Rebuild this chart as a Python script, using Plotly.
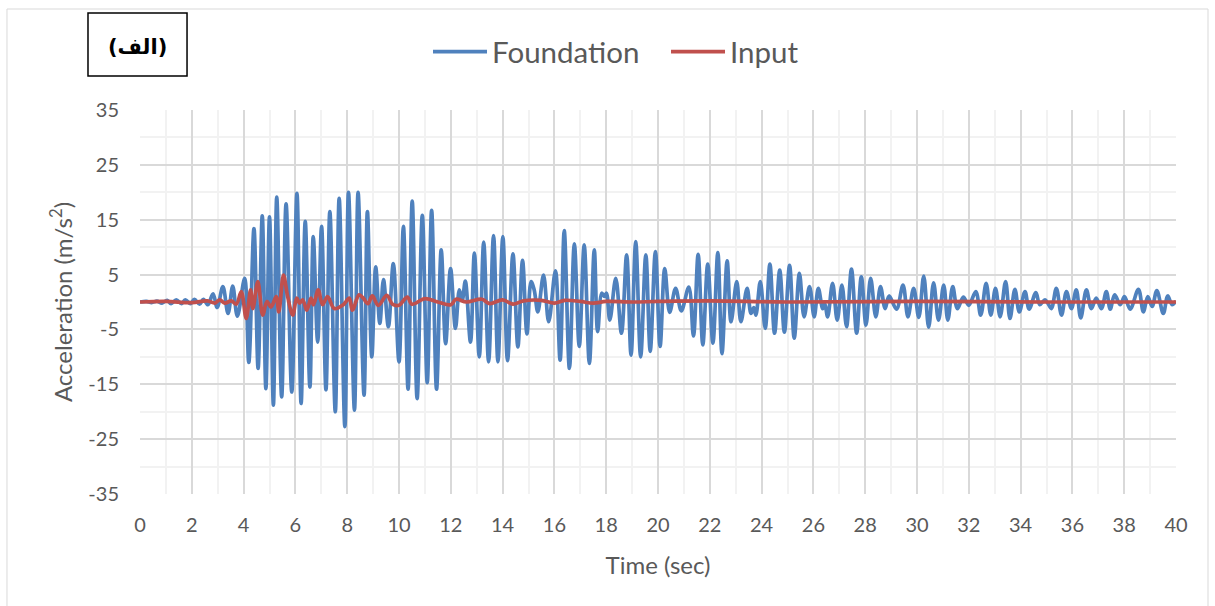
import plotly.graph_objects as go

# Foundation response: extrema of the recorded acceleration trace (s, m/s^2)
time_foundation = [
    0.0, 0.25, 0.45, 0.65, 0.85, 1.05, 1.2, 1.4, 1.6, 1.75, 1.95, 2.1, 2.3, 2.45, 2.62,
    2.82, 2.98, 3.2, 3.4, 3.58, 3.76, 4.04, 4.2, 4.4, 4.56, 4.72, 4.86,
    5.0, 5.15, 5.28, 5.47, 5.64, 5.86, 6.06, 6.22, 6.38, 6.56, 6.69, 6.86,
    7.01, 7.18, 7.33, 7.54, 7.69, 7.91, 8.05, 8.28, 8.42, 8.65, 8.78, 8.95,
    9.1, 9.26, 9.4, 9.59, 9.78, 10.0, 10.17, 10.35, 10.51, 10.7, 10.9, 11.09,
    11.26, 11.45, 11.63, 11.8, 11.99, 12.18, 12.33, 12.44, 12.56, 12.76, 12.91,
    13.1, 13.27, 13.46, 13.65, 13.82, 14.01, 14.19, 14.4, 14.59, 14.77, 14.94,
    15.1, 15.22, 15.36, 15.58, 15.78, 16.04, 16.22, 16.38, 16.58, 16.77, 16.96,
    17.15, 17.35, 17.54, 17.67, 17.83, 17.93, 18.01, 18.14, 18.37, 18.59, 18.79,
    18.96, 19.14, 19.33, 19.53, 19.7, 19.9, 20.08, 20.26, 20.45, 20.68, 20.9,
    21.19, 21.37, 21.55, 21.73, 21.92, 22.12, 22.31, 22.47, 22.67, 22.82, 23.04,
    23.2, 23.44, 23.59, 23.7, 23.78, 23.95, 24.14, 24.32, 24.5, 24.7, 24.88,
    25.08, 25.26, 25.46, 25.64, 25.85, 26.03, 26.19, 26.36, 26.44, 26.55, 26.74,
    26.92, 27.1, 27.28, 27.47, 27.67, 27.85, 28.03, 28.21, 28.41, 28.59, 28.77,
    28.92, 29.21, 29.46, 29.65, 29.87, 30.07, 30.26, 30.45, 30.64, 30.83, 31.03,
    31.19, 31.38, 31.56, 31.79, 32.0, 32.27, 32.46, 32.67, 32.85, 33.03, 33.21,
    33.42, 33.59, 33.78, 33.95, 34.17, 34.33, 34.59, 34.74, 34.94, 35.05, 35.19,
    35.38, 35.58, 35.77, 35.96, 36.15, 36.32, 36.54, 36.73, 36.92, 37.12, 37.31,
    37.46, 37.63, 37.85, 38.01, 38.23, 38.55, 38.74, 38.91, 39.08, 39.26, 39.51,
    39.68, 39.85, 40.0,
]
acc_foundation = [
    0.0, 0.1, -0.1, 0.15, -0.2, 0.3, -0.3, 0.4, -0.3, 0.4, -0.3, 0.5, -0.4, 0.5, -0.5,
    1.5, -1.0, 2.8, -2.1, 2.9, -2.6, 4.3, -11.0, 13.4, -12.1, 15.7, -15.8,
    15.5, -18.8, 19.1, -17.3, 17.9, -16.4, 19.8, -18.5, 14.7, -15.5, 11.9, -7.3,
    13.8, -16.0, 16.5, -20.0, 18.9, -22.7, 20.0, -19.7, 20.0, -17.0, 16.5, -10.0,
    6.4, -3.9, 4.1, -4.5, 7.0, -10.9, 13.8, -15.9, 18.4, -17.6, 15.8, -14.7,
    16.7, -15.9, 9.5, -7.6, 6.1, -4.8, 2.2, 0.3, 3.8, -7.3, 8.9,
    -10.0, 10.9, -10.9, 12.1, -10.9, 11.9, -10.7, 8.8, -8.2, 7.6, -5.8,
    3.7, 2.2, -1.8, 4.9, -3.6, 5.7, -10.6, 13.0, -12.1, 10.6, -8.1,
    10.4, -11.2, 9.5, -5.4, 1.6, 1.0, 1.6, -3.3, 4.3, -5.7, 8.6,
    -9.7, 11.0, -10.0, 8.6, -9.0, 9.2, -8.1, 6.1, -1.9, 2.5, -1.6,
    2.7, -6.2, 8.7, -7.8, 6.9, -7.5, 9.0, -9.4, 7.5, -3.6, 3.7,
    -3.6, 2.5, -2.1, -1.0, -2.4, 3.7, -4.8, 6.9, -5.7, 5.8, -5.5,
    6.7, -6.6, 5.2, -2.7, 2.8, -2.7, 2.5, -1.2, -0.3, -2.7, 3.4,
    -3.3, 3.1, -4.5, 6.0, -5.7, 4.6, -4.2, 4.3, -2.7, 2.8, -1.2,
    1.1, -1.3, 3.1, -2.7, 2.5, -2.8, 4.7, -4.6, 3.5, -3.3, 3.1,
    -3.3, 2.8, -1.2, 0.9, -0.6, 1.9, -2.4, 3.4, -2.4, 2.5, -2.7,
    3.7, -3.0, 2.3, -1.8, 1.9, -1.3, 1.7, -0.5, 0.4, -0.2, -1.2,
    2.5, -2.4, 1.9, -1.2, 2.2, -2.9, 2.2, -1.2, 0.7, -1.2, 1.9,
    -1.3, 1.3, -0.5, 1.0, -1.3, 2.3, -1.8, 1.0, -0.8, 2.1, -2.1,
    1.1, -0.5, 0.2,
]

# Input excitation (s, m/s^2)
time_input = [
    0.0, 1.0, 2.0, 2.6, 2.9, 3.08, 3.27, 3.53, 3.72, 3.91, 4.1, 4.27, 4.36, 4.55,
    4.74, 4.9, 5.06, 5.26, 5.36, 5.54, 5.7, 5.9, 6.05, 6.16, 6.28, 6.44, 6.6,
    6.7, 6.88, 7.05, 7.24, 7.5, 7.85, 8.08, 8.2, 8.46, 8.62, 8.8, 8.97, 9.2,
    9.53, 9.75, 10.0, 10.32, 10.5, 11.0, 11.5, 12.0, 12.2, 12.6, 13.2, 13.5,
    14.0, 14.4, 14.8, 15.5, 16.0, 16.4, 17.0, 17.5, 18.0, 19.0, 20.0, 22.0,
    25.0, 30.0, 35.0, 40.0,
]
acc_input = [
    0.0, 0.1, -0.1, 0.2, -0.2, 0.4, -0.2, 0.2, -0.4, 1.9, -3.0, 2.2, -1.2, 3.7,
    -2.4, 0.1, -0.9, 1.0, -1.8, 4.9, 1.0, -2.4, 0.7, -0.2, 0.4, -1.5, 0.7,
    -0.5, 2.2, -0.5, 1.0, -1.2, -0.5, 0.7, -1.5, 1.3, 0.7, -0.3, 1.1, -0.6,
    1.2, -0.4, -0.6, 0.9, -0.4, 0.6, 0.0, -0.5, 0.5, 0.0, 0.5, -0.3,
    0.4, -0.4, 0.2, 0.3, -0.2, 0.3, 0.1, -0.2, 0.1, 0.0, 0.1, 0.2,
    0.0, 0.1, 0.0, 0.0,
]

x_ticks = list(range(0, 41, 2))
y_ticks = [-35, -25, -15, -5, 5, 15, 25, 35]

FONT = "Lato, Open Sans, sans-serif"
TEXT_GREY = "#595959"
MAJOR_GRID = "#d9d9d9"
MINOR_GRID = "#f2f2f2"

fig = go.Figure()
fig.add_trace(go.Scatter(
    x=time_foundation, y=acc_foundation, name="Foundation", mode="lines",
    line=dict(color="#4f81bd", width=3.7, shape="spline", smoothing=1.0),
))
fig.add_trace(go.Scatter(
    x=time_input, y=acc_input, name="Input", mode="lines",
    line=dict(color="#c0504d", width=3.7, shape="spline", smoothing=1.0),
))

fig.update_layout(
    width=1215, height=606,
    margin=dict(l=140, r=39, t=110, b=112),
    paper_bgcolor="white", plot_bgcolor="white",
    font=dict(family=FONT, color=TEXT_GREY),
    showlegend=True,
    legend=dict(
        orientation="h", x=0.278, xanchor="left", y=1.151, yanchor="middle",
        font=dict(size=29.5, color=TEXT_GREY), itemwidth=54,
        entrywidth=169, entrywidthmode="pixels",
        bgcolor="rgba(0,0,0,0)",
    ),
    xaxis=dict(
        range=[0, 40], tickvals=x_ticks, ticktext=[str(v) for v in x_ticks],
        showgrid=True, gridcolor=MAJOR_GRID, gridwidth=1.5,
        minor=dict(dtick=1, tick0=0, showgrid=True, gridcolor=MINOR_GRID, gridwidth=1.5),
        zeroline=False, showline=False,
        ticks="outside", ticklen=13, tickcolor="rgba(0,0,0,0)",
        tickfont=dict(size=20, color=TEXT_GREY),
        title=dict(text="Time (sec)", font=dict(size=24, color=TEXT_GREY), standoff=22),
    ),
    yaxis=dict(
        range=[-35, 35], tickvals=y_ticks, ticktext=[str(v) for v in y_ticks],
        showgrid=True, gridcolor=MAJOR_GRID, gridwidth=1.5,
        minor=dict(tickvals=[-30, -20, -10, 0, 10, 20, 30], showgrid=True,
                   gridcolor=MINOR_GRID, gridwidth=1.5),
        zeroline=False, showline=False,
        ticks="outside", ticklen=16, tickcolor="rgba(0,0,0,0)",
        tickfont=dict(size=20, color=TEXT_GREY),
        title=dict(text="Acceleration (m/s<sup>2</sup>)", font=dict(size=24, color=TEXT_GREY),
                   standoff=8),
    ),
    shapes=[
        # chart-area frame
        dict(type="rect", xref="paper", yref="paper",
             x0=-0.1284, x1=1.0309, y0=-0.40, y1=1.263,
             line=dict(color=MAJOR_GRID, width=1), layer="below"),
        # panel-label box
        dict(type="rect", xref="paper", yref="paper",
             x0=-0.0502, x1=0.0454, y0=1.0885, y1=1.2526,
             line=dict(color="black", width=1.5)),
    ],
    annotations=[
        dict(text="<b>(الف)</b>", xref="paper", yref="paper",
             x=-0.0024, y=1.164, xanchor="center", yanchor="middle", showarrow=False,
             font=dict(family="DejaVu Sans, Noto Sans, sans-serif", size=21, color="black")),
    ],
)

fig.write_html("out.html")
